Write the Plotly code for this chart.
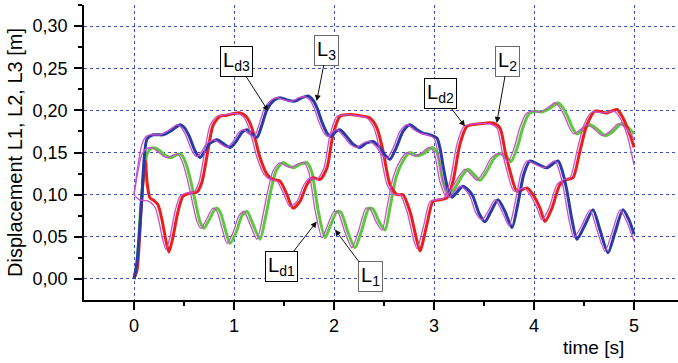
import plotly.graph_objects as go

# ---- data ----
# measured L1 (green)
t_L1 = [0.00, 0.03, 0.07, 0.10, 0.13, 0.17, 0.22, 0.27, 0.32, 0.37, 0.42, 0.47, 0.51, 0.56, 0.62, 0.66, 0.70, 0.76,
        0.82, 0.86, 0.91, 0.96, 1.02, 1.08, 1.13, 1.19, 1.26, 1.31, 1.36, 1.42, 1.49, 1.55, 1.60, 1.66, 1.73, 1.78,
        1.84, 1.91, 1.96, 2.03, 2.07, 2.14, 2.21, 2.27, 2.35, 2.39, 2.45, 2.51, 2.56, 2.62, 2.69, 2.76, 2.83, 2.90,
        2.98, 3.03, 3.09, 3.15, 3.21, 3.28, 3.34, 3.40, 3.46, 3.53, 3.60, 3.67, 3.72, 3.77, 3.83, 3.89, 3.95, 4.01,
        4.08, 4.14, 4.20, 4.24, 4.29, 4.34, 4.39, 4.43, 4.49, 4.56, 4.63, 4.71, 4.79, 4.87, 4.93, 5.00]
L1 = [0.000, 0.020, 0.090, 0.125, 0.148, 0.155, 0.155, 0.151, 0.146, 0.144, 0.147, 0.148, 0.140, 0.120, 0.088, 0.068,
      0.060, 0.072, 0.084, 0.080, 0.060, 0.042, 0.055, 0.075, 0.080, 0.065, 0.047, 0.070, 0.100, 0.128, 0.138, 0.134,
      0.132, 0.136, 0.138, 0.126, 0.082, 0.049, 0.062, 0.080, 0.079, 0.055, 0.037, 0.055, 0.084, 0.083, 0.068, 0.058,
      0.085, 0.120, 0.140, 0.150, 0.146, 0.149, 0.156, 0.150, 0.115, 0.098, 0.108, 0.122, 0.130, 0.124, 0.117, 0.128,
      0.143, 0.149, 0.146, 0.139, 0.155, 0.180, 0.196, 0.199, 0.198, 0.201, 0.206, 0.209, 0.203, 0.192, 0.178, 0.172,
      0.177, 0.183, 0.178, 0.170, 0.175, 0.184, 0.181, 0.172]

# desired Ld1 (magenta)
t_Ld1 = [0.00, 0.04, 0.08, 0.13, 0.19, 0.24, 0.29, 0.34, 0.39, 0.44, 0.48, 0.53, 0.59, 0.63, 0.67, 0.73, 0.79, 0.83,
         0.88, 0.93, 0.99, 1.05, 1.10, 1.16, 1.23, 1.28, 1.33, 1.39, 1.46, 1.52, 1.57, 1.63, 1.70, 1.75, 1.81, 1.88,
         1.93, 2.00, 2.04, 2.11, 2.18, 2.24, 2.32, 2.36, 2.42, 2.48, 2.53, 2.59, 2.66, 2.73, 2.80, 2.87, 2.95, 3.00,
         3.06, 3.12, 3.18, 3.25, 3.31, 3.37, 3.43, 3.50, 3.57, 3.64, 3.69, 3.74, 3.80, 3.86, 3.92, 3.98, 4.05, 4.11,
         4.17, 4.21, 4.26, 4.31, 4.36, 4.40, 4.46, 4.53, 4.60, 4.68, 4.76, 4.84, 4.90, 4.97, 5.00]
Ld1 = [0.100, 0.128, 0.148, 0.155, 0.155, 0.151, 0.146, 0.144, 0.147, 0.148, 0.140, 0.120, 0.088, 0.068, 0.060, 0.072,
       0.084, 0.080, 0.060, 0.042, 0.055, 0.075, 0.080, 0.065, 0.047, 0.070, 0.100, 0.128, 0.138, 0.134, 0.132, 0.136,
       0.138, 0.126, 0.082, 0.049, 0.062, 0.080, 0.079, 0.055, 0.037, 0.055, 0.084, 0.083, 0.068, 0.058, 0.085, 0.120,
       0.140, 0.150, 0.146, 0.149, 0.156, 0.150, 0.115, 0.098, 0.108, 0.122, 0.130, 0.124, 0.117, 0.128, 0.143, 0.149,
       0.146, 0.139, 0.155, 0.180, 0.196, 0.199, 0.198, 0.201, 0.206, 0.209, 0.203, 0.192, 0.178, 0.172, 0.177, 0.183,
       0.178, 0.170, 0.175, 0.184, 0.181, 0.172, 0.165]

# measured L2 (red)
t_L2 = [0.00, 0.03, 0.07, 0.10, 0.115, 0.13, 0.16, 0.20, 0.24, 0.28, 0.32, 0.35, 0.39, 0.44, 0.49, 0.56, 0.63, 0.68,
        0.73, 0.79, 0.86, 0.92, 0.99, 1.06, 1.12, 1.16, 1.21, 1.26, 1.33, 1.39, 1.46, 1.53, 1.59, 1.66, 1.73, 1.79,
        1.86, 1.93, 1.99, 2.06, 2.16, 2.29, 2.36, 2.43, 2.49, 2.56, 2.63, 2.69, 2.76, 2.83, 2.86, 2.93, 2.99, 3.06,
        3.13, 3.19, 3.26, 3.33, 3.46, 3.59, 3.66, 3.71, 3.76, 3.83, 3.93, 3.99, 4.06, 4.11, 4.18, 4.26, 4.33, 4.39,
        4.46, 4.53, 4.61, 4.73, 4.83, 4.89, 4.96, 5.00]
L2 = [0.000, 0.010, 0.080, 0.130, 0.140, 0.115, 0.096, 0.093, 0.088, 0.070, 0.045, 0.032, 0.050, 0.080, 0.098, 0.102,
      0.103, 0.115, 0.146, 0.182, 0.193, 0.194, 0.196, 0.197, 0.193, 0.185, 0.167, 0.144, 0.124, 0.118, 0.116, 0.100,
      0.084, 0.092, 0.112, 0.120, 0.118, 0.132, 0.171, 0.193, 0.195, 0.193, 0.191, 0.179, 0.152, 0.112, 0.100, 0.100,
      0.080, 0.045, 0.033, 0.065, 0.092, 0.094, 0.096, 0.116, 0.160, 0.181, 0.184, 0.185, 0.179, 0.152, 0.128, 0.104,
      0.108, 0.100, 0.084, 0.068, 0.084, 0.112, 0.118, 0.120, 0.152, 0.183, 0.199, 0.197, 0.201, 0.191, 0.171, 0.156]

# desired Ld2 (magenta)
t_Ld2 = [0.00, 0.05, 0.10, 0.15, 0.21, 0.25, 0.29, 0.32, 0.36, 0.41, 0.46, 0.53, 0.60, 0.65, 0.70, 0.76, 0.83, 0.89,
         0.96, 1.03, 1.09, 1.13, 1.18, 1.23, 1.30, 1.36, 1.43, 1.50, 1.56, 1.63, 1.70, 1.76, 1.83, 1.90, 1.96, 2.03,
         2.13, 2.26, 2.33, 2.40, 2.46, 2.53, 2.60, 2.66, 2.73, 2.80, 2.83, 2.90, 2.96, 3.03, 3.10, 3.16, 3.23, 3.30,
         3.43, 3.56, 3.63, 3.68, 3.73, 3.80, 3.90, 3.96, 4.03, 4.08, 4.15, 4.23, 4.30, 4.36, 4.43, 4.50, 4.58, 4.70,
         4.80, 4.86, 4.93, 5.00]
Ld2 = [0.100, 0.094, 0.093, 0.092, 0.085, 0.068, 0.045, 0.035, 0.050, 0.080, 0.098, 0.102, 0.103, 0.115, 0.146, 0.182,
       0.193, 0.194, 0.196, 0.196, 0.193, 0.185, 0.167, 0.144, 0.124, 0.118, 0.116, 0.100, 0.086, 0.092, 0.112, 0.120,
       0.118, 0.132, 0.171, 0.193, 0.195, 0.193, 0.191, 0.179, 0.152, 0.112, 0.100, 0.100, 0.080, 0.045, 0.036, 0.065,
       0.092, 0.094, 0.096, 0.116, 0.160, 0.181, 0.184, 0.184, 0.179, 0.152, 0.128, 0.104, 0.108, 0.100, 0.084, 0.070,
       0.084, 0.112, 0.118, 0.120, 0.152, 0.183, 0.198, 0.197, 0.199, 0.191, 0.171, 0.135]

# measured L3 (blue)
t_L3 = [0.00, 0.03, 0.077, 0.10, 0.13, 0.19, 0.24, 0.29, 0.36, 0.42, 0.46, 0.50, 0.55, 0.61, 0.66, 0.71, 0.76, 0.83,
        0.90, 0.96, 1.02, 1.08, 1.13, 1.18, 1.23, 1.28, 1.33, 1.40, 1.46, 1.54, 1.61, 1.68, 1.74, 1.79, 1.83, 1.88,
        1.93, 1.97, 2.02, 2.06, 2.12, 2.19, 2.26, 2.32, 2.39, 2.45, 2.51, 2.56, 2.62, 2.69, 2.76, 2.83, 2.89, 2.96,
        3.03, 3.06, 3.10, 3.14, 3.18, 3.23, 3.29, 3.34, 3.39, 3.45, 3.51, 3.57, 3.64, 3.71, 3.78, 3.84, 3.90, 3.96,
        4.04, 4.13, 4.24, 4.29, 4.33, 4.38, 4.43, 4.51, 4.59, 4.66, 4.74, 4.81, 4.89, 4.95, 5.00]
L3 = [0.000, 0.020, 0.094, 0.140, 0.166, 0.171, 0.171, 0.171, 0.175, 0.180, 0.183, 0.180, 0.170, 0.152, 0.144, 0.152,
      0.161, 0.165, 0.160, 0.156, 0.163, 0.174, 0.177, 0.172, 0.168, 0.183, 0.201, 0.212, 0.215, 0.212, 0.211, 0.215,
      0.217, 0.212, 0.203, 0.186, 0.173, 0.169, 0.175, 0.177, 0.170, 0.160, 0.156, 0.161, 0.163, 0.157, 0.147, 0.142,
      0.155, 0.175, 0.183, 0.177, 0.173, 0.171, 0.167, 0.155, 0.128, 0.106, 0.097, 0.103, 0.110, 0.106, 0.098, 0.078,
      0.068, 0.080, 0.094, 0.080, 0.061, 0.090, 0.125, 0.140, 0.136, 0.132, 0.140, 0.125, 0.104, 0.070, 0.047, 0.064,
      0.082, 0.058, 0.031, 0.055, 0.082, 0.070, 0.053]

# desired Ld3 (magenta)
t_Ld3 = [0.00, 0.04, 0.08, 0.12, 0.16, 0.21, 0.26, 0.33, 0.39, 0.43, 0.47, 0.52, 0.58, 0.63, 0.68, 0.73, 0.80, 0.87,
         0.93, 0.99, 1.05, 1.10, 1.15, 1.20, 1.25, 1.30, 1.37, 1.43, 1.51, 1.58, 1.65, 1.71, 1.76, 1.80, 1.85, 1.90,
         1.94, 1.99, 2.03, 2.09, 2.16, 2.23, 2.29, 2.36, 2.42, 2.48, 2.53, 2.59, 2.66, 2.73, 2.80, 2.86, 2.93, 3.00,
         3.03, 3.07, 3.11, 3.15, 3.20, 3.26, 3.31, 3.36, 3.42, 3.48, 3.54, 3.61, 3.68, 3.75, 3.81, 3.87, 3.93, 4.01,
         4.10, 4.21, 4.26, 4.30, 4.35, 4.40, 4.48, 4.56, 4.63, 4.71, 4.78, 4.86, 4.92, 5.00]
Ld3 = [0.100, 0.135, 0.160, 0.169, 0.171, 0.171, 0.171, 0.175, 0.180, 0.183, 0.180, 0.170, 0.152, 0.145, 0.152, 0.161,
       0.165, 0.160, 0.156, 0.163, 0.174, 0.177, 0.172, 0.168, 0.183, 0.201, 0.212, 0.215, 0.212, 0.211, 0.215, 0.216,
       0.212, 0.203, 0.186, 0.173, 0.169, 0.175, 0.177, 0.170, 0.160, 0.156, 0.161, 0.163, 0.157, 0.147, 0.143, 0.155,
       0.175, 0.183, 0.177, 0.173, 0.171, 0.167, 0.155, 0.128, 0.106, 0.097, 0.103, 0.110, 0.106, 0.098, 0.078, 0.070,
       0.080, 0.094, 0.080, 0.063, 0.090, 0.125, 0.140, 0.136, 0.132, 0.140, 0.125, 0.104, 0.070, 0.049, 0.064, 0.082,
       0.058, 0.033, 0.055, 0.082, 0.070, 0.045]

# label annotations: (text, tip t, tip value, dx px, dy px, border colour)
labels = ["L<sub>d3</sub>", "L<sub>3</sub>", "L<sub>d2</sub>", "L<sub>2</sub>", "L<sub>d1</sub>", "L<sub>1</sub>"]
label_tip_t = [1.343, 1.827, 3.31, 3.627, 1.827, 2.01]
label_tip_v = [0.199, 0.211, 0.181, 0.185, 0.068, 0.0585]
label_dx = [-32, 10, -25, 11, -35, 35]
label_dy = [-50, -51, -33, -62, 45, 47]
label_border = ["#000000", "#6a6a6a", "#000000", "#6a6a6a", "#000000", "#6a6a6a"]

x_ticks = [0, 1, 2, 3, 4, 5]
y_ticks = [0.00, 0.05, 0.10, 0.15, 0.20, 0.25, 0.30]

GREEN = "#5cc83c"
RED = "#e8201c"
BLUE = "#2a3aa6"
MAG = "#c94fc9"
FONT = "Liberation Sans"

fig = go.Figure()
meas_w = 3.0
des_w = 1.3
sm = 0.7
fig.add_trace(go.Scatter(x=t_L1, y=L1, mode="lines", line=dict(color=GREEN, width=meas_w, shape="spline", smoothing=sm)))
fig.add_trace(go.Scatter(x=t_L2, y=L2, mode="lines", line=dict(color=RED, width=meas_w, shape="spline", smoothing=sm)))
fig.add_trace(go.Scatter(x=t_L3, y=L3, mode="lines", line=dict(color=BLUE, width=meas_w, shape="spline", smoothing=sm)))
for tt, vv in ((t_Ld1, Ld1), (t_Ld2, Ld2), (t_Ld3, Ld3)):
    fig.add_trace(go.Scatter(x=tt, y=vv, mode="lines", line=dict(color=MAG, width=des_w, shape="spline", smoothing=sm)))

for txt, tx, ty, dx, dy, bc in zip(labels, label_tip_t, label_tip_v, label_dx, label_dy, label_border):
    fig.add_annotation(x=tx, y=ty, xref="x", yref="y", ax=dx, ay=dy, text=txt, showarrow=True,
                       arrowhead=2, arrowsize=1.2, arrowwidth=1, arrowcolor="#111111", standoff=0,
                       font=dict(family=FONT, size=20, color="black"), bgcolor="white",
                       bordercolor=bc, borderwidth=1, borderpad=2)

# x-axis title placed at its reference pixel position (plot area: x 84..678, y 5..300)
fig.add_annotation(x=(593 - 84) / 594, y=-(347 - 300) / 295, xref="paper", yref="paper",
                   xanchor="center", yanchor="middle", text="time [s]", showarrow=False,
                   font=dict(family=FONT, size=19, color="black"))

grid = "#3d4fc4"
fig.update_layout(
    width=678, height=363,
    margin=dict(l=84, r=0, t=5, b=63, autoexpand=False),
    paper_bgcolor="white", plot_bgcolor="white",
    showlegend=False,
    separators=",.",
    font=dict(family=FONT, size=18, color="black"),
    xaxis=dict(range=[-0.5, 5.44], tickvals=x_ticks, ticktext=[str(v) for v in x_ticks], automargin=False,
               showline=True, linecolor="black", linewidth=1.5, ticks="outside", ticklen=8, tickwidth=1.5,
               tickcolor="black", showgrid=True, gridcolor=grid, griddash="dot", gridwidth=1, zeroline=False,
               tickfont=dict(size=18), ticklabelstandoff=1,
               minor=dict(tickvals=[0.5, 1.5, 2.5, 3.5, 4.5], ticks="outside", ticklen=4, tickwidth=1.5,
                          tickcolor="black", showgrid=False)),
    yaxis=dict(range=[-0.025, 0.325], tickvals=y_ticks, tickformat=".2f", automargin=False,
               showline=True, linecolor="black", linewidth=1.5, ticks="outside", ticklen=8, tickwidth=1.5,
               tickcolor="black", showgrid=True, gridcolor=grid, griddash="dot", gridwidth=1, zeroline=False,
               tickfont=dict(size=18), ticklabelstandoff=3,
               title=dict(text="Displacement L1, L2, L3 [m]", font=dict(size=20), standoff=5),
               minor=dict(tickvals=[0.025, 0.075, 0.125, 0.175, 0.225, 0.275, 0.325], ticks="outside",
                          ticklen=4, tickwidth=1.5, tickcolor="black", showgrid=False)),
)

fig.write_html("out.html", config={"displayModeBar": False},
               post_script="document.body.style.margin='0';document.body.style.overflow='hidden';")
